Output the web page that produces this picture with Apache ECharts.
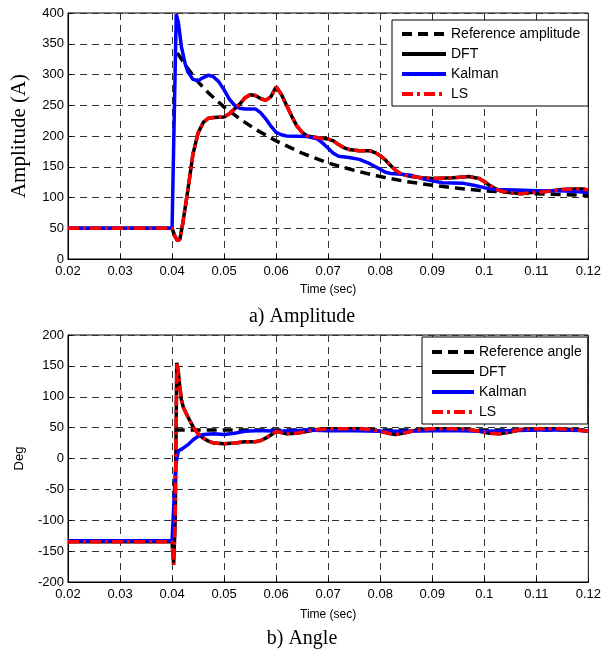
<!DOCTYPE html>
<html>
<head>
<meta charset="utf-8">
<script src="https://cdn.jsdelivr.net/npm/echarts@6/dist/echarts.min.js"></script>
<style>
  html, body { margin: 0; padding: 0; background: #fff; }
  #chart { width: 604px; height: 650px; }
</style>
</head>
<body>
<div id="chart"></div>
<script>
// x ticks (time, sec)
var timeTicks = [0.02, 0.03, 0.04, 0.05, 0.06, 0.07, 0.08, 0.09, 0.1, 0.11, 0.12];

// amplitude curves, [t, A]
var ampRef = [[0.041,335],[0.043,310],[0.045,288],[0.047,270],[0.05,247],[0.053,228],[0.056,211],[0.06,192],[0.065,172],[0.07,156],[0.075,144],[0.08,134],[0.085,126],[0.09,120],[0.095,115],[0.1,111],[0.105,108],[0.11,106],[0.115,105],[0.12,103]];
var ampDFT = [[0.02,50],[0.04,50],[0.0405,38],[0.041,30],[0.0415,32],[0.042,55],[0.043,110],[0.044,170],[0.045,205],[0.046,222],[0.047,229],[0.048,230],[0.05,231],[0.051,236],[0.052,244],[0.053,252],[0.054,262],[0.055,267],[0.056,266],[0.057,261],[0.058,258],[0.059,264],[0.06,280],[0.061,268],[0.062,250],[0.063,232],[0.064,216],[0.065,206],[0.066,200],[0.068,197],[0.07,195],[0.071,192],[0.072,186],[0.073,181],[0.074,178],[0.076,176],[0.078,176],[0.079,173],[0.08,168],[0.081,161],[0.082,152],[0.083,144],[0.084,138],[0.086,134],[0.088,132],[0.09,131],[0.094,132],[0.097,134],[0.099,131],[0.1,126],[0.101,120],[0.102,115],[0.103,111],[0.105,108],[0.107,106],[0.109,108],[0.111,109],[0.113,111],[0.115,113],[0.117,114],[0.119,114],[0.12,112]];
var ampKalman = [[0.02,50],[0.04,50],[0.0408,398],[0.0412,385],[0.0418,345],[0.0425,318],[0.043,305],[0.044,292],[0.045,290],[0.046,295],[0.047,299],[0.048,296],[0.049,288],[0.05,275],[0.051,260],[0.052,250],[0.053,245],[0.054,244],[0.056,244],[0.057,238],[0.058,228],[0.059,216],[0.06,206],[0.061,202],[0.062,200],[0.066,199],[0.068,195],[0.069,188],[0.07,180],[0.071,172],[0.072,167],[0.074,165],[0.076,162],[0.078,155],[0.08,146],[0.081,141],[0.082,139],[0.084,138],[0.086,136],[0.088,131],[0.09,127],[0.092,124],[0.096,123],[0.098,120],[0.1,116],[0.102,113],[0.106,112],[0.11,111],[0.114,111],[0.117,110],[0.12,108]];
var ampLS = ampDFT.slice();

// angle curves, [t, deg]
var angRef = [[0.0405,46],[0.06,46],[0.09,46],[0.12,46]];
var angDFT = [[0.02,-135],[0.04,-135],[0.0403,-172],[0.0406,-100],[0.0409,155],[0.0412,140],[0.0415,115],[0.0418,95],[0.0422,82],[0.043,68],[0.044,52],[0.045,40],[0.046,33],[0.047,28],[0.048,25],[0.05,24],[0.052,25],[0.054,27],[0.056,27],[0.057,29],[0.058,33],[0.059,38],[0.06,44],[0.061,42],[0.062,40],[0.064,41],[0.066,44],[0.068,47],[0.07,48],[0.073,48],[0.076,48],[0.078,47],[0.08,44],[0.082,40],[0.083,39],[0.085,42],[0.087,46],[0.09,48],[0.094,48],[0.097,47],[0.099,44],[0.101,41],[0.103,40],[0.105,43],[0.107,47],[0.11,48],[0.114,48],[0.117,47],[0.12,44]];
var angKalman = [[0.02,-133],[0.04,-133],[0.0407,-10],[0.0412,12],[0.042,16],[0.043,22],[0.044,30],[0.045,36],[0.046,39],[0.048,40],[0.05,39],[0.052,41],[0.054,44],[0.056,45],[0.058,45],[0.06,44],[0.063,45],[0.066,46],[0.07,45],[0.075,45],[0.08,44],[0.085,44],[0.09,45],[0.095,45],[0.1,44],[0.105,45],[0.11,46],[0.115,46],[0.12,45]];
var angLS = angDFT.slice();

var sans = '"Liberation Sans", Arial, sans-serif';
var serif = '"Liberation Serif", "Times New Roman", serif';

var chart = echarts.init(document.getElementById('chart'));

function xAxis(idx) {
  return {
    type: 'value', gridIndex: idx,
    min: timeTicks[0], max: timeTicks[timeTicks.length - 1], interval: 0.01,
    name: 'Time (sec)', nameLocation: 'middle', nameGap: idx === 0 ? 25 : 27,
    nameTextStyle: { fontFamily: sans, fontSize: 12, color: '#000' },
    axisLine: { onZero: false, lineStyle: { color: '#000', width: 1 } },
    axisTick: { inside: true, length: 4, lineStyle: { color: '#000' } },
    axisLabel: {
      fontFamily: sans, fontSize: 13, color: '#000', margin: 6,
      formatter: function (v) { return String(+v.toFixed(2)); }
    },
    splitLine: { show: true, lineStyle: { color: '#333', type: [7, 5], width: 1 } }
  };
}

function yAxis(idx, min, max, name, nameFont) {
  return {
    type: 'value', gridIndex: idx, min: min, max: max, interval: 50,
    name: name, nameLocation: 'middle', nameRotate: 90,
    nameGap: idx === 0 ? 38 : 42,
    nameTextStyle: nameFont,
    axisLine: { show: true, onZero: false, lineStyle: { color: '#000', width: 1 } },
    axisTick: { show: true, inside: true, length: 4, lineStyle: { color: '#000' } },
    axisLabel: { fontFamily: sans, fontSize: 13, color: '#000', margin: 4 },
    splitLine: { show: true, lineStyle: { color: '#333', type: [7, 5], width: 1 } }
  };
}

function line(name, data, idx, color, type, w) {
  return {
    name: name, type: 'line', xAxisIndex: idx, yAxisIndex: idx,
    data: data, symbol: 'none', animation: false,
    lineStyle: { color: color, type: type, width: w },
    itemStyle: { color: color }
  };
}

var legendBase = {
  orient: 'vertical', itemWidth: 44, itemHeight: 14, itemGap: 6,
  backgroundColor: '#fff', borderColor: '#000', borderWidth: 1, borderRadius: 0,
  textStyle: { fontFamily: sans, fontSize: 14, color: '#000' },
  itemStyle: { opacity: 0 },
  lineStyle: { width: 4 },
  selectedMode: false
};

var option = {
  backgroundColor: '#fff',
  animation: false,
  grid: [
    { left: 68, top: 13, width: 521, height: 246, show: true, borderColor: '#000', borderWidth: 1 },
    { left: 68, top: 335, width: 521, height: 247, show: true, borderColor: '#000', borderWidth: 1 }
  ],
  xAxis: [xAxis(0), xAxis(1)],
  yAxis: [
    yAxis(0, 0, 400, 'Amplitude (A)', { fontFamily: serif, fontSize: 21, color: '#000' }),
    yAxis(1, -200, 200, 'Deg', { fontFamily: sans, fontSize: 13, color: '#000' })
  ],
  legend: [
    Object.assign({}, legendBase, {
      left: 392, top: 20, padding: [7, 8, 5, 8],
      data: ['Reference amplitude', 'DFT', 'Kalman', 'LS']
    }),
    Object.assign({}, legendBase, {
      left: 422, top: 337, padding: [8, 6, 5, 8], itemWidth: 42,
      data: ['Reference angle', 'DFT', 'Kalman', 'LS']
    })
  ],
  title: [
    { text: 'a) Amplitude', left: 'center', top: 302,
      textStyle: { fontFamily: serif, fontSize: 20, fontWeight: 'normal', color: '#000' } },
    { text: 'b) Angle', left: 'center', top: 624,
      textStyle: { fontFamily: serif, fontSize: 20, fontWeight: 'normal', color: '#000' } }
  ],
  series: [
    line('Reference amplitude', ampRef, 0, '#000', [10, 6], 3.5),
    line('DFT', ampDFT, 0, '#000', 'solid', 3.5),
    line('Kalman', ampKalman, 0, '#0000ff', 'solid', 3.5),
    line('LS', ampLS, 0, '#ff0000', [11, 4, 3, 4], 3.5),
    line('Reference angle', angRef, 1, '#000', [10, 6], 3.5),
    line('DFT', angDFT, 1, '#000', 'solid', 3.5),
    line('Kalman', angKalman, 1, '#0000ff', 'solid', 3.5),
    line('LS', angLS, 1, '#ff0000', [11, 4, 3, 4], 3.5)
  ]
};

chart.setOption(option);
</script>
</body>
</html>
